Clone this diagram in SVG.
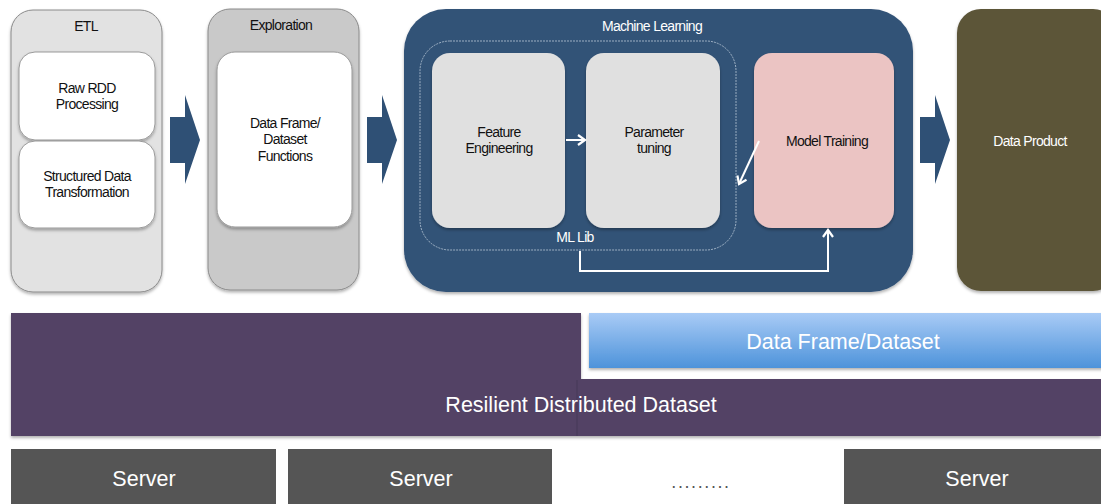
<svg xmlns="http://www.w3.org/2000/svg" width="1101" height="504" viewBox="0 0 1101 504">
<defs>
<linearGradient id="dfGrad" x1="0" y1="0" x2="0" y2="1">
<stop offset="0" stop-color="#a9cbf6"/>
<stop offset="1" stop-color="#4d93da"/>
</linearGradient>
<filter id="sh" x="-10%" y="-10%" width="120%" height="120%">
<feDropShadow dx="0" dy="2" stdDeviation="1.5" flood-color="#000" flood-opacity="0.3"/>
</filter>
<marker id="open" markerWidth="12" markerHeight="12" refX="9" refY="6" orient="auto" markerUnits="userSpaceOnUse">
<path d="M2,1 L9,6 L2,11" fill="none" stroke="#fff" stroke-width="2.2"/>
</marker>
</defs>
<style>
text { font-family: "Liberation Sans", Arial, sans-serif; }
.sm { font-size: 14px; fill: #111; text-anchor: middle; letter-spacing: -0.7px; }
.smw { font-size: 14px; fill: #fff; text-anchor: middle; letter-spacing: -0.7px; }
.big { font-size: 21.5px; fill: #fff; text-anchor: middle; }
.blk { fill: #2f5075; }
.inner { fill: #fff; stroke: #999; stroke-width: 1; }
.conn { fill: none; stroke: #fff; stroke-width: 2; }
</style>
<rect width="1101" height="504" fill="#fff"/>

<g id="etl">
<rect x="11" y="10" width="151" height="282" rx="22" fill="#e2e2e2" stroke="#8a8a8a" stroke-width="1" filter="url(#sh)"/>
<text class="sm" x="86" y="31">ETL</text>
</g>
<g id="raw-rdd">
<rect class="inner" x="19" y="52" width="136" height="88" rx="16" filter="url(#sh)"/>
<text class="sm" x="87" y="93">Raw RDD</text>
<text class="sm" x="87" y="109">Processing</text>
</g>
<g id="structured">
<rect class="inner" x="19" y="141" width="136" height="87" rx="16" filter="url(#sh)"/>
<text class="sm" x="87" y="181">Structured Data</text>
<text class="sm" x="87" y="197">Transformation</text>
</g>

<g id="exploration">
<rect x="208" y="9" width="151" height="281" rx="22" fill="#c9c9c9" stroke="#8a8a8a" stroke-width="1" filter="url(#sh)"/>
<text class="sm" x="281" y="30">Exploration</text>
</g>
<g id="df-functions">
<rect class="inner" x="217" y="52" width="135" height="175" rx="18" filter="url(#sh)"/>
<text class="sm" x="285" y="128">Data Frame/</text>
<text class="sm" x="285" y="144">Dataset</text>
<text class="sm" x="285" y="161">Functions</text>
</g>

<g id="ml">
<rect x="404" y="9" width="509" height="283" rx="42" fill="#325277" filter="url(#sh)"/>
<text class="smw" x="652" y="31">Machine Learning</text>
<rect x="420" y="41" width="316" height="209" rx="30" fill="none" stroke="#b8c6d6" stroke-width="0.8" stroke-dasharray="2,1"/>
<text class="smw" x="575" y="242">ML Lib</text>
</g>
<g id="feature-eng">
<rect x="432" y="53" width="133" height="175" rx="18" fill="#e0e0e0" filter="url(#sh)"/>
<text class="sm" x="499" y="137">Feature</text>
<text class="sm" x="499" y="153">Engineering</text>
</g>
<g id="param-tuning">
<rect x="586" y="53" width="134" height="175" rx="18" fill="#e0e0e0" filter="url(#sh)"/>
<text class="sm" x="654" y="137">Parameter</text>
<text class="sm" x="654" y="153">tuning</text>
</g>
<g id="model-training">
<rect x="754" y="53" width="140" height="175" rx="18" fill="#ebc4c3" filter="url(#sh)"/>
<text class="sm" x="827" y="146">Model Training</text>
</g>

<g id="data-product">
<rect x="957" y="9" width="160" height="282" rx="24" fill="#5b5438" filter="url(#sh)"/>
<text class="smw" x="1030" y="146">Data Product</text>
</g>

<g id="connectors">
<path class="blk" d="M170,117 L185,117 L185,95 L200,140 L185,184 L185,163 L170,163 Z"/>
<path class="blk" d="M367,117 L382,117 L382,95 L397,140 L382,184 L382,163 L367,163 Z"/>
<path class="blk" d="M920,117 L935,117 L935,95 L950,140 L935,184 L935,163 L920,163 Z"/>
<line class="conn" x1="566" y1="140" x2="585" y2="140" marker-end="url(#open)"/>
<line class="conn" x1="759" y1="141" x2="739" y2="184" stroke-width="1.6" marker-end="url(#open)"/>
<path class="conn" d="M580,251 L580,271 L828,271 L828,230" marker-end="url(#open)"/>
</g>

<g id="rdd">
<path d="M11,313 L581,313 L581,379 L1101,379 L1101,436 L11,436 Z" fill="#524365" filter="url(#sh)"/>
<line x1="577" y1="380" x2="577" y2="436" stroke="#463858" stroke-width="1"/>
<text class="big" x="581" y="412">Resilient Distributed Dataset</text>
</g>
<g id="dataframe">
<rect x="589" y="313" width="520" height="55" fill="url(#dfGrad)" filter="url(#sh)"/>
<text class="big" x="843" y="349">Data Frame/Dataset</text>
</g>

<g id="server1">
<rect x="11" y="449" width="265" height="60" fill="#555"/>
<text class="big" x="144" y="486">Server</text>
</g>
<g id="server2">
<rect x="288" y="449" width="264" height="60" fill="#555"/>
<text class="big" x="421" y="486">Server</text>
</g>
<g id="dots">
<text x="701" y="488" style="font-size:18px;fill:#555;text-anchor:middle;letter-spacing:1.6px">.........</text>
</g>
<g id="server3">
<rect x="844" y="449" width="270" height="60" fill="#555"/>
<text class="big" x="977" y="486">Server</text>
</g>
</svg>
